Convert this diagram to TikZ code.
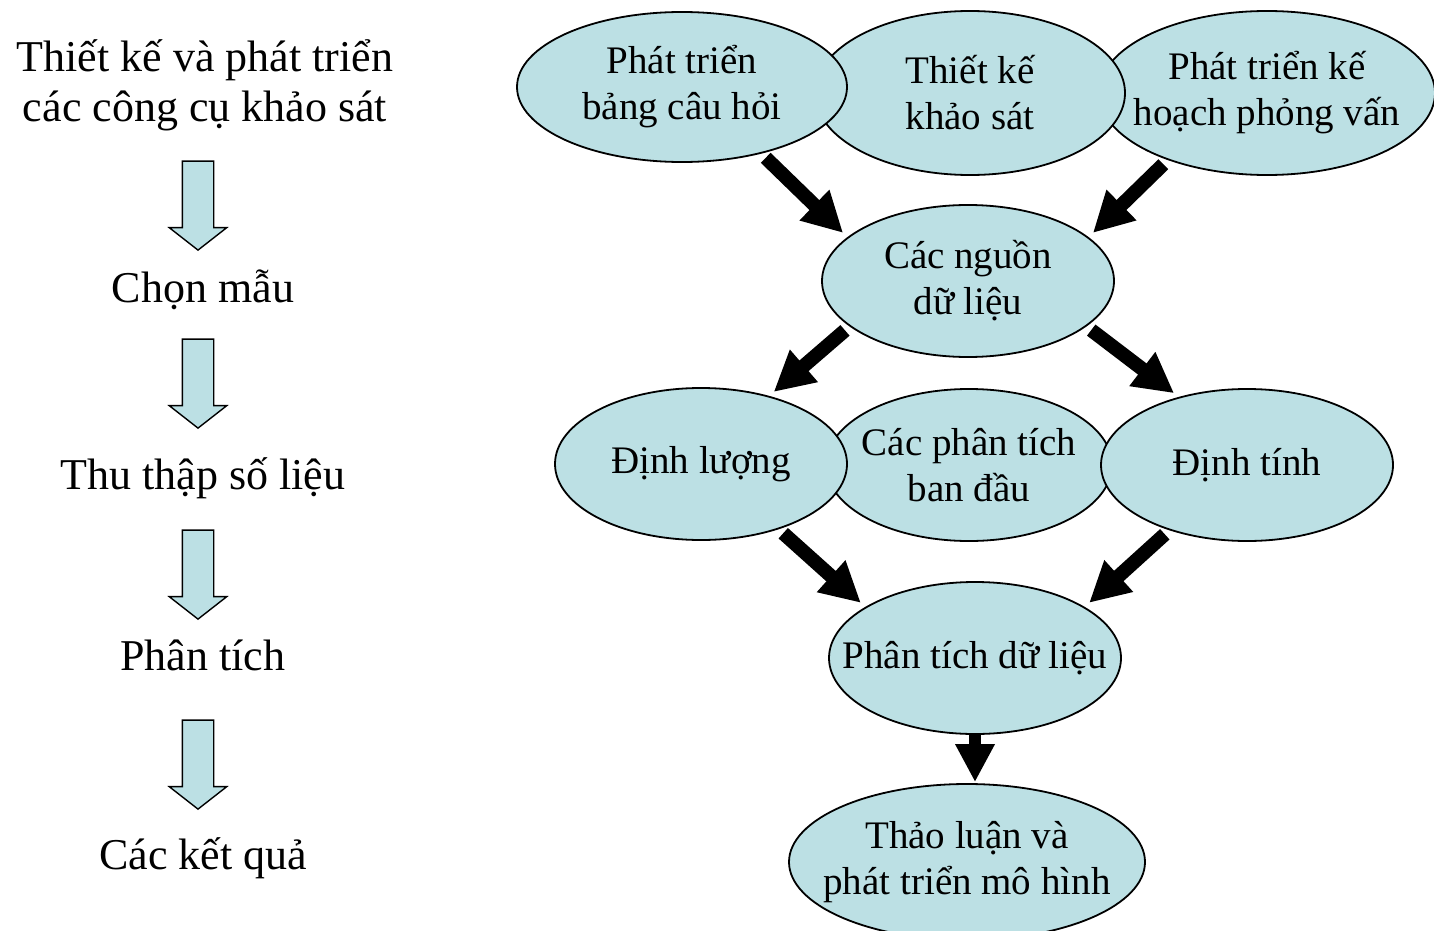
\documentclass[tikz,border=0pt]{standalone}
\usepackage{fontspec}
\setmainfont{Liberation Serif}
\usetikzlibrary{arrows.meta,shapes.geometric,shapes.arrows}
\definecolor{lightcyan}{RGB}{188,224,228}

\begin{document}
\begin{tikzpicture}[x=0.5pt,y=-0.5pt,
    blob/.style={ellipse,draw,line width=0.9pt,fill=lightcyan,align=center,
        inner xsep=-20pt,inner ysep=0pt,font=\fontsize{19.5}{23}\selectfont},
    fat/.style={line width=7pt,-{Triangle[length=20pt,width=20pt]},
        shorten <=3pt,shorten >=3pt},
    steplabel/.style={font=\fontsize{22}{25}\selectfont,align=center},
    downarrow/.style={single arrow,draw,line width=0.7pt,fill=lightcyan,
        shape border rotate=270,minimum height=44.5pt,inner sep=7.5pt,
        single arrow head extend=6.5pt,single arrow tip angle=104}]
        \useasboundingbox (0,0) rectangle (1434,931);
        % left column
        \node[steplabel] (t1) at (205,85) {Thiết kế và phát triển\\các công cụ khảo sát};
        \node[steplabel] (t2) at (203,290) {Chọn mẫu};
        \node[steplabel] (t3) at (203,478) {Thu thập số liệu};
        \node[steplabel] (t4) at (203,655) {Phân tích};
        \node[steplabel] (t5) at (203,858) {Các kết quả};
        \node[downarrow,anchor=tip] (d1) at (198,251) {};
        \node[downarrow,anchor=tip] (d2) at (198,429) {};
        \node[downarrow,anchor=tip] (d3) at (198,620) {};
        \node[downarrow,anchor=tip] (d4) at (198,810) {};
        % right column
        \node[blob,minimum width=168pt,minimum height=82pt] (p3) at (1267,93) {Phát triển kế\\hoạch phỏng vấn};
        \node[blob,minimum width=155pt,minimum height=82pt] (p2) at (970,93) {Thiết kế\\khảo sát};
        \node[blob,minimum width=165pt,minimum height=75pt] (p1) at (682,87) {Phát triển\\bảng câu hỏi};
        \node[blob,minimum width=146pt,minimum height=76pt] (src) at (968,281) {Các nguồn\\dữ liệu};
        \node[blob,minimum width=143pt,minimum height=76pt] (pt) at (969,465) {Các phân tích\\ban đầu};
        \node[blob,minimum width=146pt,minimum height=76pt] (dl) at (701,464) {Định lượng};
        \node[blob,minimum width=146pt,minimum height=76pt] (dt) at (1247,465) {Định tính};
        \node[blob,minimum width=146pt,minimum height=76pt] (ptd) at (975,658) {Phân tích dữ liệu};
        \node[blob,minimum width=178pt,minimum height=78pt] (kq) at (967,862) {Thảo luận và\\phát triển mô hình};
        \draw[fat] (p1.-40) -- (src.160);
        \draw[fat] (p3.214) -- (src.20);
        \draw[fat] (src.201) -- (dl.45);
        \draw[fat] (src.-21) -- (dt.135);
        \draw[fat] (dl.-40) -- (ptd.155);
        \draw[fat] (dt.220) -- (ptd.25);
        \draw[fat,line width=6pt,-{Triangle[length=19pt,width=18.5pt]},shorten <=0pt,shorten >=0.5pt] (ptd.south) -- (ptd.south |- kq.north);
    \end{tikzpicture}
\end{document}
